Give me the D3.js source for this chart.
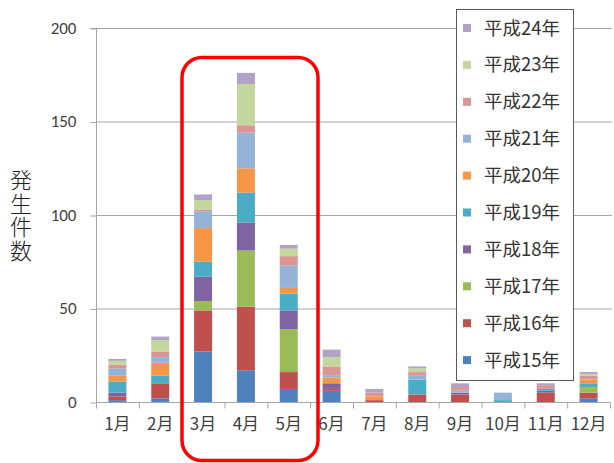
<!DOCTYPE html>
<html>
<head>
<meta charset="utf-8">
<script src="https://cdn.jsdelivr.net/npm/d3@7"></script>
<style>
  html, body { margin: 0; padding: 0; background: #fff; }
  svg { display: block; }
  text { font-family: "Noto Sans CJK JP", "Noto Sans", sans-serif; }
</style>
</head>
<body>
<svg id="chart" width="614" height="463"></svg>
<script>
// Monthly incident counts, stacked by year (平成15年 .. 平成24年)
const months = ["1月","2月","3月","4月","5月","6月","7月","8月","9月","10月","11月","12月"];
const years = ["平成15年","平成16年","平成17年","平成18年","平成19年","平成20年","平成21年","平成22年","平成23年","平成24年"];
const h15 = [1, 2, 27, 17, 7, 6, 0, 0, 0, 0, 0, 2];
const h16 = [2, 8, 22, 34, 9, 1, 1, 4, 4, 0, 5, 3];
const h17 = [0, 0, 5, 30, 23, 0, 0, 0, 0, 0, 0, 3];
const h18 = [2, 0, 13, 15, 10, 3, 0, 0, 1, 0, 1, 0];
const h19 = [6, 4, 8, 16, 9, 0, 0, 8, 0, 1, 1, 2];
const h20 = [3, 7, 18, 13, 3, 3, 2, 0, 0, 0, 0, 2];
const h21 = [4, 3, 9, 19, 12, 1, 0, 2, 1, 4, 0, 0];
const h22 = [2, 3, 1, 4, 5, 5, 2, 2, 2, 0, 2, 2];
const h23 = [2, 6, 5, 22, 4, 5, 0, 2, 0, 0, 0, 1];
const h24 = [1, 2, 3, 6, 2, 4, 2, 1, 2, 0, 1, 1];
const yTicks = [0, 50, 100, 150, 200];
const axisTitle = "発生件数";
const colors = ["#4F81BD","#C0504D","#9BBB59","#8064A2","#4BACC6","#F79646","#95B3D7","#D99694","#C3D69B","#B3A2C7"];

const seriesValues = [h15, h16, h17, h18, h19, h20, h21, h22, h23, h24];
const table = months.map((m, i) => {
  const row = { month: m };
  years.forEach((y, k) => { row[y] = seriesValues[k][i]; });
  return row;
});

const svg = d3.select("#chart");
const x = d3.scaleBand().domain(months).range([96, 610]).paddingInner(0.58).paddingOuter(0.29);
const y = d3.scaleLinear().domain([0, 200]).range([402, 28]);

// horizontal gridlines
svg.append("g").selectAll("line").data(yTicks.filter(d => d > 0)).join("line")
  .attr("x1", 96).attr("x2", 612)
  .attr("y1", d => y(d) + 0.5).attr("y2", d => y(d) + 0.5)
  .attr("stroke", "#a6a6a6").attr("stroke-width", 1);

// stacked bars
const stack = d3.stack().keys(years)(table);
svg.append("g").selectAll("g").data(stack).join("g")
  .attr("fill", (d, i) => colors[i])
  .selectAll("rect").data(d => d).join("rect")
  .attr("x", d => x(d.data.month))
  .attr("width", x.bandwidth())
  .attr("y", d => y(d[1]))
  .attr("height", d => y(d[0]) - y(d[1]));

// y axis
const yAxis = svg.append("g").attr("transform", "translate(96.5,0)")
  .call(d3.axisLeft(y).tickValues(yTicks).tickSize(6).tickPadding(14));
yAxis.select(".domain").attr("stroke", "#a6a6a6").attr("d", `M-6,${y(200)+0.5}H0V${y(0)+0.5}`);
yAxis.selectAll(".tick line").attr("stroke", "#a6a6a6").attr("transform", "translate(0,0.5)");
yAxis.selectAll(".tick text").attr("fill", "#404040").style("font-size", "17px")
  .style("font-family", "Carlito, 'Liberation Sans', sans-serif");

// x axis with ticks between categories
const xg = svg.append("g").attr("transform", `translate(0,${y(0) + 0.5})`);
xg.append("line").attr("x1", 96).attr("x2", 610).attr("stroke", "#a6a6a6");
xg.selectAll("line.tk").data(d3.range(months.length + 1)).join("line").attr("class", "tk")
  .attr("x1", i => 96.5 + i * x.step()).attr("x2", i => 96.5 + i * x.step())
  .attr("y1", 0).attr("y2", 6).attr("stroke", "#a6a6a6");
xg.selectAll("text").data(months).join("text")
  .attr("x", d => x(d) + x.bandwidth() / 2)
  .attr("y", 27)
  .attr("text-anchor", "middle")
  .attr("fill", "#404040")
  .style("font-size", "17px")
  .text(d => d);

// vertical axis title, set as one upright column
svg.append("text")
  .attr("x", 21).attr("y", 169)
  .attr("fill", "#222")
  .style("font-size", "22px")
  .style("font-weight", "300")
  .style("writing-mode", "vertical-rl")
  .style("text-orientation", "upright")
  .style("letter-spacing", "1.5px")
  .text(axisTitle);

// legend (latest year on top)
const lg = svg.append("g");
lg.append("rect").attr("x", 456.5).attr("y", 9.5).attr("width", 117).attr("height", 371)
  .attr("fill", "#fff").attr("stroke", "#595959").attr("stroke-width", 1);
const items = years.map((yr, i) => ({ yr, c: colors[i] })).reverse();
const li = lg.selectAll("g.item").data(items).join("g").attr("class", "item")
  .attr("transform", (d, i) => `translate(0,${28 + i * 36.9})`);
li.append("rect").attr("x", 463).attr("y", -4).attr("width", 8).attr("height", 8).attr("fill", d => d.c);
li.append("text").attr("x", 484).attr("y", 6.5).attr("fill", "#333")
  .style("font-size", "18.5px").text(d => d.yr);

// highlight frame around March–May
svg.append("rect").attr("x", 182).attr("y", 57.5).attr("width", 136).attr("height", 403)
  .attr("rx", 20).attr("ry", 20)
  .attr("fill", "none").attr("stroke", "#ff0000").attr("stroke-width", 3.5);
</script>
</body>
</html>
